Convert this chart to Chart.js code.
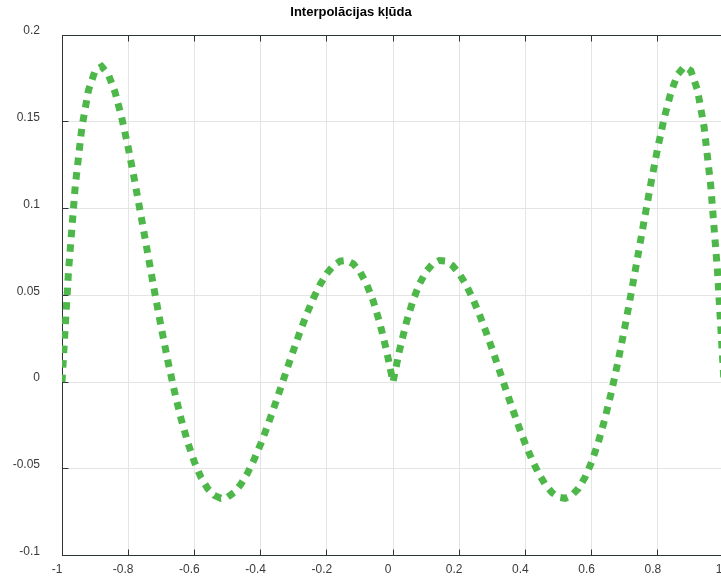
<!DOCTYPE html>
<html>
<head>
<meta charset="utf-8">
<title>Interpolācijas kļūda</title>
<style>
  html, body { margin: 0; padding: 0; background: #fff; width: 721px; height: 581px; overflow: hidden; }
  #wrap { position: absolute; left: -22px; top: 0; width: 746px; height: 581px; }
</style>
<script src="https://cdn.jsdelivr.net/npm/chart.js@4/dist/chart.umd.min.js"></script>
</head>
<body>
<div id="wrap"><canvas id="c" width="746" height="581"></canvas></div>
<script>
// Interpolation error of |x| on [-1, 1]
const TITLE = 'Interpolācijas kļūda';

const xValues = [
  -1.00, -0.98, -0.96, -0.94, -0.92, -0.90, -0.88, -0.86, -0.84, -0.82,
  -0.80, -0.78, -0.76, -0.74, -0.72, -0.70, -0.68, -0.66, -0.64, -0.62,
  -0.60, -0.58, -0.56, -0.54, -0.52, -0.50, -0.48, -0.46, -0.44, -0.42,
  -0.40, -0.38, -0.36, -0.34, -0.32, -0.30, -0.28, -0.26, -0.24, -0.22,
  -0.20, -0.18, -0.16, -0.14, -0.12, -0.10, -0.08, -0.06, -0.04, -0.02,
   0.00,
   0.02,  0.04,  0.06,  0.08,  0.10,  0.12,  0.14,  0.16,  0.18,  0.20,
   0.22,  0.24,  0.26,  0.28,  0.30,  0.32,  0.34,  0.36,  0.38,  0.40,
   0.42,  0.44,  0.46,  0.48,  0.50,  0.52,  0.54,  0.56,  0.58,  0.60,
   0.62,  0.64,  0.66,  0.68,  0.70,  0.72,  0.74,  0.76,  0.78,  0.80,
   0.82,  0.84,  0.86,  0.88,  0.90,  0.92,  0.94,  0.96,  0.98,  1.00
];

const errorValues = [
   0.00000,  0.06484,  0.11302,  0.14676,  0.16824,  0.17934,  0.18183,  0.17729,  0.16716,  0.15272,
   0.13512,  0.11538,  0.09439,  0.07294,  0.05168,  0.03120,  0.01195, -0.00567, -0.02137, -0.03492,
  -0.04616, -0.05500, -0.06140, -0.06538, -0.06702, -0.06641, -0.06370, -0.05906, -0.05271, -0.04487,
  -0.03579, -0.02573, -0.01496, -0.00377,  0.00755,  0.01872,  0.02946,  0.03948,  0.04850,  0.05627,
   0.06254,  0.06707,  0.06964,  0.07004,  0.06811,  0.06367,  0.05660,  0.04677,  0.03410,  0.01852,
   0.00000,
   0.01852,  0.03410,  0.04677,  0.05660,  0.06367,  0.06811,  0.07004,  0.06964,  0.06707,  0.06254,
   0.05627,  0.04850,  0.03948,  0.02946,  0.01872,  0.00755, -0.00377, -0.01496, -0.02573, -0.03579,
  -0.04487, -0.05271, -0.05906, -0.06370, -0.06641, -0.06702, -0.06538, -0.06140, -0.05500, -0.04616,
  -0.03492, -0.02137, -0.00567,  0.01195,  0.03120,  0.05168,  0.07294,  0.09439,  0.11538,  0.13512,
   0.15272,  0.16716,  0.17729,  0.18183,  0.17934,  0.16824,  0.14676,  0.11302,  0.06484,  0.00000
];

const xTicks = [-1, -0.8, -0.6, -0.4, -0.2, 0, 0.2, 0.4, 0.6, 0.8, 1];
const yTicks = [-0.1, -0.05, 0, 0.05, 0.1, 0.15, 0.2];

const FONT = "'Liberation Sans', Arial, Helvetica, sans-serif";
const AXIS = '#2c3636';
const GRID = '#e4e4e4';
const LABEL = '#3a3a3a';
const GREEN = '#4db849';

// tick marks pointing into the plot, plus the top frame line
const innerTicks = {
  id: 'innerTicks',
  beforeDatasetsDraw(chart) {
    const { ctx, chartArea: a, scales: { x, y } } = chart;
    const len = 6;
    const top = Math.floor(a.top) + 0.5;
    const bottom = Math.floor(a.bottom) + 0.5;
    const left = Math.floor(a.left) + 0.5;
    ctx.save();
    ctx.strokeStyle = AXIS;
    ctx.lineWidth = 1;
    ctx.beginPath();
    ctx.moveTo(a.left, top);
    ctx.lineTo(a.right, top);
    x.ticks.forEach((t, i) => {
      const px = Math.floor(x.getPixelForTick(i)) + 0.5;
      ctx.moveTo(px, bottom); ctx.lineTo(px, bottom - len);
      ctx.moveTo(px, top); ctx.lineTo(px, top + len);
    });
    y.ticks.forEach((t, i) => {
      const py = Math.floor(y.getPixelForTick(i)) + 0.5;
      ctx.moveTo(left, py); ctx.lineTo(left + len, py);
    });
    ctx.stroke();
    ctx.restore();
  }
};

new Chart(document.getElementById('c'), {
  type: 'line',
  data: {
    datasets: [{
      data: xValues.map((x, i) => ({ x, y: errorValues[i] })),
      borderColor: GREEN,
      borderWidth: 7,
      borderDash: [7.5, 7],
      borderCapStyle: 'butt',
      pointRadius: 0,
      tension: 0,
      fill: false
    }]
  },
  options: {
    responsive: false,
    animation: false,
    devicePixelRatio: 1,
    layout: { padding: 0 },
    plugins: {
      legend: { display: false },
      tooltip: { enabled: false },
      title: {
        display: true,
        text: TITLE,
        color: '#000',
        font: { family: FONT, size: 13, weight: 'bold' },
        padding: { top: 5, bottom: 14.4 }
      }
    },
    scales: {
      x: {
        type: 'linear',
        min: -1,
        max: 1,
        grid: { color: GRID, drawTicks: false },
        border: { color: AXIS },
        ticks: {
          color: LABEL,
          font: { family: FONT, size: 12 },
          padding: 7,
          labelOffset: -5,
          maxRotation: 0,
          autoSkip: false,
          callback: v => String(v)
        },
        afterBuildTicks: s => { s.ticks = xTicks.map(v => ({ value: v })); },
        afterFit: s => { s.height = 25.5; s.paddingLeft = 0; s.paddingRight = 0; }
      },
      y: {
        type: 'linear',
        min: -0.1,
        max: 0.2,
        grid: { color: GRID, drawTicks: false },
        border: { color: AXIS },
        ticks: {
          color: LABEL,
          font: { family: FONT, size: 12 },
          padding: 22,
          labelOffset: -4,
          autoSkip: false,
          callback: v => String(v)
        },
        afterBuildTicks: s => { s.ticks = yTicks.map(v => ({ value: v })); },
        afterFit: s => { s.width = 84; s.paddingTop = 0; s.paddingBottom = 0; }
      }
    }
  },
  plugins: [innerTicks]
});
</script>
</body>
</html>
